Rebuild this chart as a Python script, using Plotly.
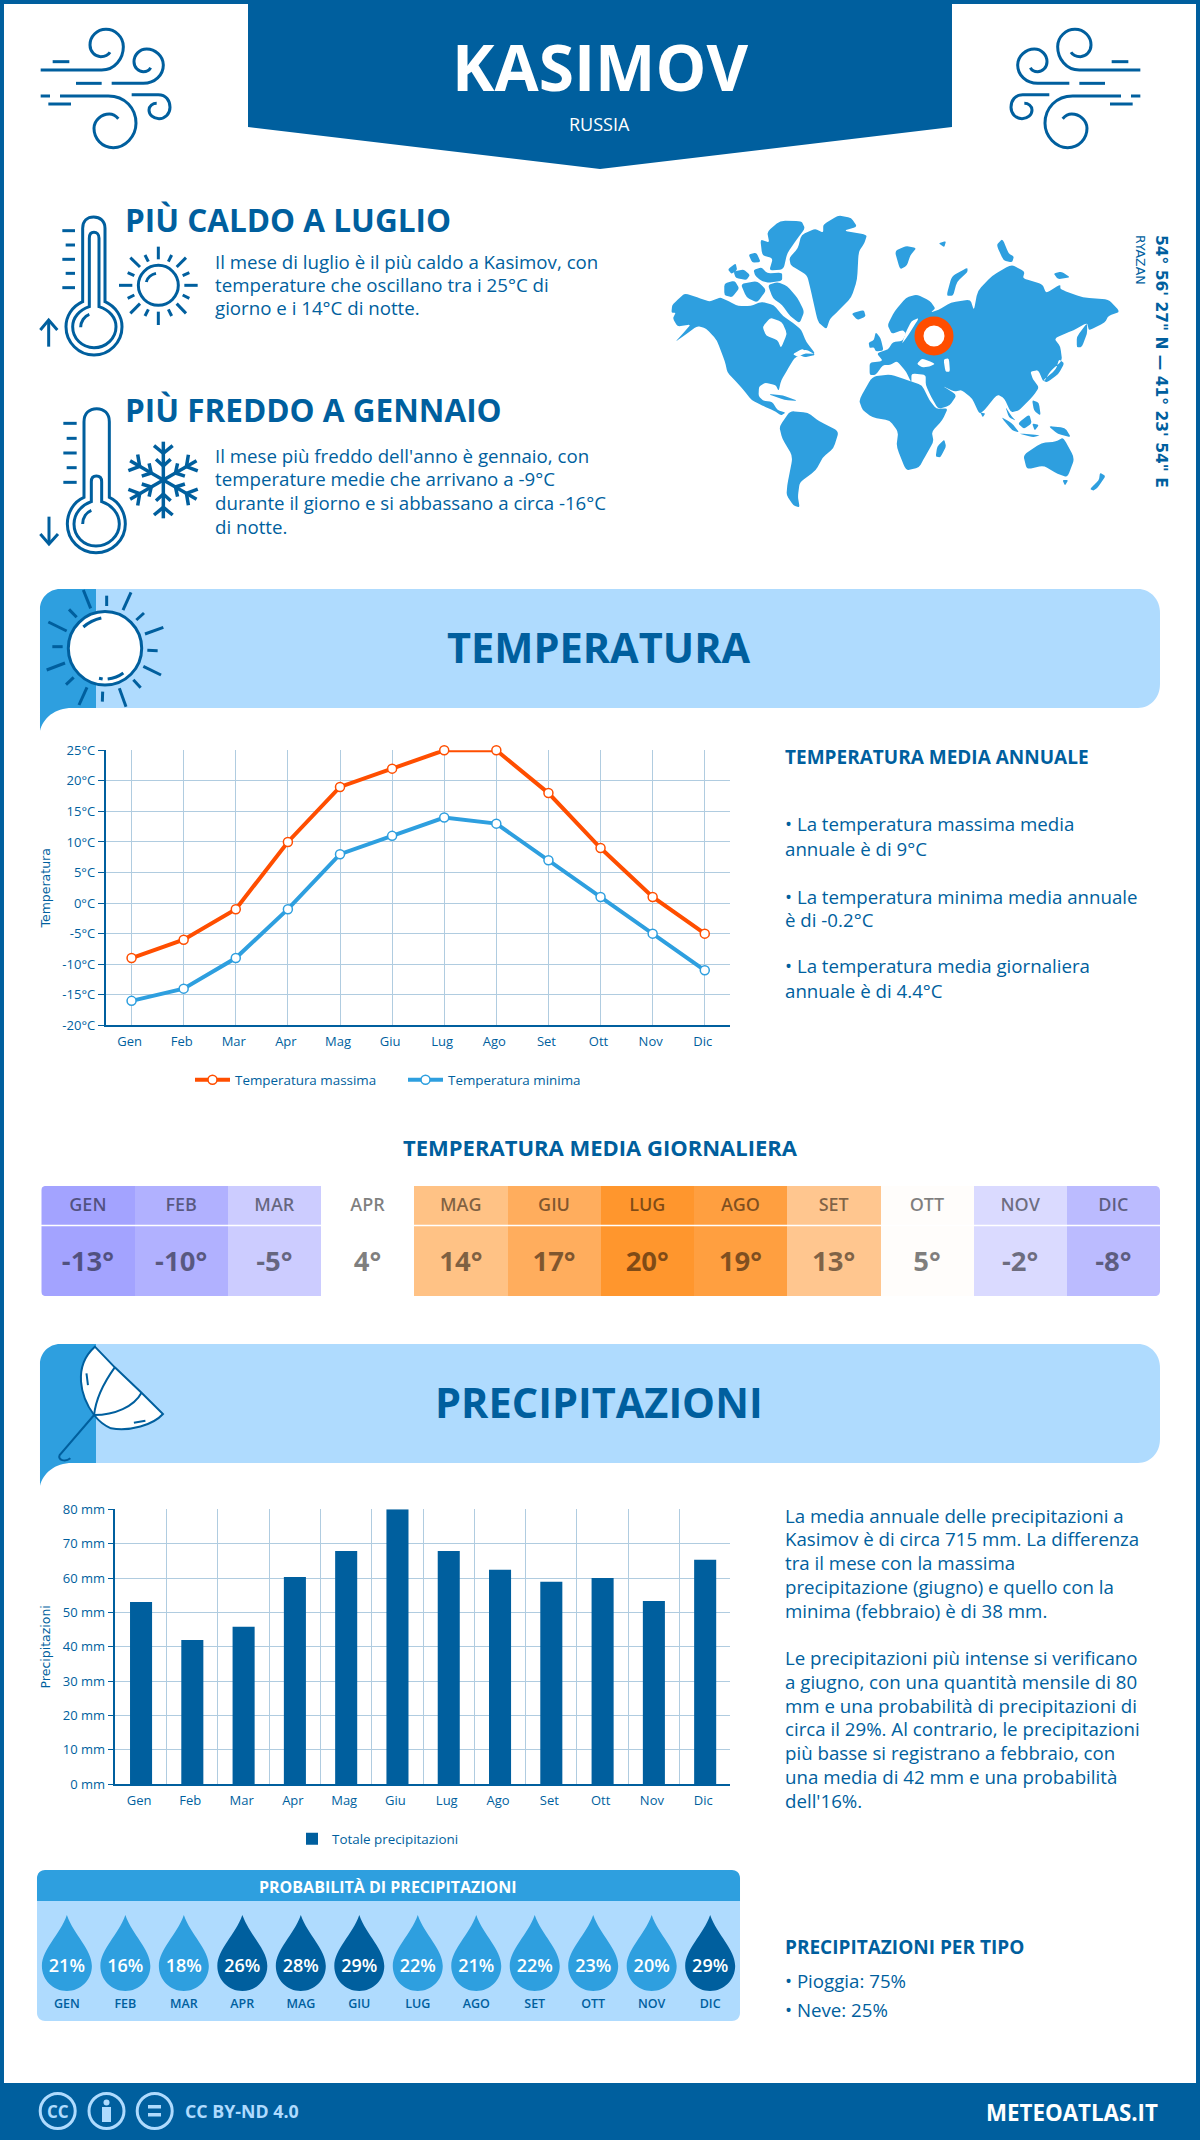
import re
import math
import plotly.graph_objects as go

# ===============
# data
# ===============

months = ["Gen", "Feb", "Mar", "Apr", "Mag", "Giu", "Lug", "Ago", "Set", "Ott", "Nov", "Dic"]
months_upper = [m.upper() for m in months]
month_index = list(range(12))

temp_max = [-9, -6, -1, 10, 19, 22, 25, 25, 18, 9, 1, -5]
temp_min = [-16, -14, -9, -1, 8, 11, 14, 13, 7, 1, -5, -11]
temp_ticks = [-20, -15, -10, -5, 0, 5, 10, 15, 20, 25]
temp_tick_labels = ["-20°C", "-15°C", "-10°C", "-5°C", "0°C", "5°C", "10°C", "15°C", "20°C", "25°C"]

temp_daily = [-13, -10, -5, 4, 14, 17, 20, 19, 13, 5, -2, -8]
temp_daily_labels = ["-13°", "-10°", "-5°", "4°", "14°", "17°", "20°", "19°", "13°", "5°", "-2°", "-8°"]
temp_colors = [(-13, "#A3A3FF"), (-10, "#B1B1FF"), (-8, "#BBBBFF"), (-5, "#CCCCFF"), (-2, "#DADAFF"), (4, "#FFFFFF"),
               (5, "#FFFDFB"), (13, "#FFC68F"), (14, "#FFC285"), (17, "#FFAD5D"), (19, "#FF9F40"), (20, "#FF962D")]

precip = [53, 42, 45.8, 60.3, 67.9, 80, 67.9, 62.4, 58.9, 60, 53.3, 65.3]
precip_ticks = [0, 10, 20, 30, 40, 50, 60, 70, 80]
precip_tick_labels = ["0 mm", "10 mm", "20 mm", "30 mm", "40 mm", "50 mm", "60 mm", "70 mm", "80 mm"]

rain_prob = [21, 16, 18, 26, 28, 29, 22, 21, 22, 23, 20, 29]

hot_lines = ["Il mese di luglio è il più caldo a Kasimov, con",
             "temperature che oscillano tra i 25°C di",
             "giorno e i 14°C di notte."]
cold_lines = ["Il mese più freddo dell'anno è gennaio, con",
              "temperature medie che arrivano a -9°C",
              "durante il giorno e si abbassano a circa -16°C",
              "di notte."]
temp_side_lines = ["• La temperatura massima media", "annuale è di 9°C",
                   "• La temperatura minima media annuale", "è di -0.2°C",
                   "• La temperatura media giornaliera", "annuale è di 4.4°C"]
precip_side_lines = ["La media annuale delle precipitazioni a",
                     "Kasimov è di circa 715 mm. La differenza",
                     "tra il mese con la massima",
                     "precipitazione (giugno) e quello con la",
                     "minima (febbraio) è di 38 mm.",
                     "Le precipitazioni più intense si verificano",
                     "a giugno, con una quantità mensile di 80",
                     "mm e una probabilità di precipitazioni di",
                     "circa il 29%. Al contrario, le precipitazioni",
                     "più basse si registrano a febbraio, con",
                     "una media di 42 mm e una probabilità",
                     "dell'16%."]

# ===============
# colors
# ===============

DARK = "#005F9E"
MID = "#2E9FDF"
LIGHT = "#AFDBFE"
ORANGE = "#FF4E00"
GRID = "#B0CCE0"
W, H = 1200, 2140

shapes = []
annotations = []

# ===============
# helpers
# ===============

def to_paper(d, sx=1.0, sy=1.0, ox=0.0, oy=0.0, mirror=None):
    # svg path written in some local coordinates -> paper coordinates
    nums = iter(range(100000))
    def repl(m):
        v = float(m.group(0))
        if next(nums) % 2 == 0:
            x = ox + v * sx
            if mirror is not None:
                x = mirror - x
            return f"{x / W:.5f}"
        return f"{1 - (oy + v * sy) / H:.5f}"
    return re.sub(r"-?\d+\.?\d*", repl, d)

def add_path(d, fill=None, line=None, width=0, layer="below", **kw):
    shapes.append(dict(type="path", xref="paper", yref="paper", path=to_paper(d, **kw), layer=layer,
                       fillcolor=fill if fill else "rgba(0,0,0,0)",
                       line=dict(color=line if line else "rgba(0,0,0,0)", width=width)))

def add_rect(x0, y0, x1, y1, color, layer="below"):
    add_path(f"M{x0},{y0} L{x1},{y0} L{x1},{y1} L{x0},{y1} Z", fill=color, layer=layer)

def add_circle(cx, cy, r, fill=None, line=None, width=0, layer="above"):
    shapes.append(dict(type="circle", xref="paper", yref="paper", layer=layer,
                       x0=(cx - r) / W, x1=(cx + r) / W, y0=1 - (cy + r) / H, y1=1 - (cy - r) / H,
                       fillcolor=fill if fill else "rgba(0,0,0,0)",
                       line=dict(color=line if line else "rgba(0,0,0,0)", width=width)))

def add_text(x, y, s, size, color=DARK, weight=400, anchor="left", family="Open Sans", angle=0):
    annotations.append(dict(x=x / W, y=1 - y / H, xref="paper", yref="paper", text=s, showarrow=False,
                            xanchor=anchor, yanchor="middle", textangle=angle,
                            font=dict(family=family, size=size, color=color, weight=weight)))

def add_icon(paths, width=3, color=DARK, **kw):
    for d in paths:
        add_path(d, line=color, width=width, layer="above", **kw)

def polys(points):
    # outlines with the corners rounded off a little
    out = []
    for p in points:
        n = len(p)
        d = ""
        for i in range(n):
            x, y = p[i]
            ax, ay = p[i - 1]
            bx, by = p[(i + 1) % n]
            sx_, sy_ = x + (ax - x) * 0.25, y + (ay - y) * 0.25
            ex, ey = x + (bx - x) * 0.25, y + (by - y) * 0.25
            d += ("M" if i == 0 else " L") + f"{sx_:.1f},{sy_:.1f} Q{x},{y} {ex:.1f},{ey:.1f}"
        out.append(d + " Z")
    return " ".join(out)

# ===============
# frame and header
# ===============

add_rect(0, 0, W, 4, DARK)
add_rect(0, 0, 4, H, DARK)
add_rect(W - 4, 0, W, H, DARK)
add_rect(0, 2083, W, H, DARK)
add_path("M248,0 L952,0 L952,127 L600,169 L248,127 Z", fill=DARK)
add_text(600, 66, "KASIMOV", 64, "white", 700, "center")
add_text(599, 124, "RUSSIA", 18, "white", 400, "center")

wind = [
    "M32,150 L215,150 C255,150 280,115 280,80 C280,50 255,28 228,28 C200,28 180,50 180,75 C180,95 195,110 212,110 C225,110 235,105 240,97",
    "M68,125 L118,125",
    "M138,190 L215,190",
    "M245,190 L340,190 C375,190 400,165 400,135 C400,108 375,87 350,87 C328,87 312,105 312,125 C312,142 325,155 340,155 C350,155 358,150 362,143",
    "M32,228 L60,228",
    "M90,228 L235,228 C285,228 318,265 318,310 C318,350 285,383 250,383 C215,383 192,355 192,325 C192,300 215,282 238,282 C250,282 258,288 265,296",
    "M55,252 L123,252",
    "M305,224 L385,224 C408,224 420,242 420,262 C420,282 405,296 387,296 C370,296 357,285 357,270 C357,258 368,250 380,250",
]
add_icon(wind, sx=1 / 3, sy=1 / 3, ox=30, oy=20)
add_icon(wind, sx=1 / 3, sy=1 / 3, ox=30, oy=20, mirror=1181)

# ===============
# hottest / coldest blocks
# ===============

add_text(123, 219, "PIÙ CALDO A LUGLIO", 31.5, DARK, 700)
for i, line in enumerate(hot_lines):
    add_text(213, [261, 284, 308][i], line, 18.7)
add_text(123, 410, "PIÙ FREDDO A GENNAIO", 31.5, DARK, 700)
for i, line in enumerate(cold_lines):
    add_text(213, [455, 478.5, 502.5, 526.5][i], line, 18.7)

hot_icon = [
    "M158,290 L158,70 C158,48 172,36 191,36 C210,36 225,48 225,70 L225,290 C258,305 276,335 276,365 C276,412 238,450 192,450 C146,450 108,412 108,365 C108,335 125,305 158,290 Z",
    "M178,305 L178,100 C178,88 184,82 192,82 C200,82 207,88 207,100 L207,305 C238,315 258,338 258,365 C258,400 228,428 192,428 C156,428 128,400 128,365 C128,338 148,315 178,305 Z",
    "M152,367 C152,350 163,333 178,328",
    "M97,77 L135,77", "M107,120 L135,120", "M97,163 L135,163", "M107,205 L135,205", "M97,248 L135,248",
    "M56,425 L56,345", "M31,375 L56,345 L82,375",
    "M325,241 C325,208 352,181 385,181 C418,181 445,208 445,241 C445,274 418,301 385,301 C352,301 325,274 325,241 Z",
    "M349,231 C352,218 365,208 378,205",
    "M385,125 L385,163", "M385,320 L385,360", "M267,241 L307,241", "M463,241 L503,241",
    "M301,158 L330,186", "M468,158 L440,186", "M301,325 L330,296", "M468,325 L440,296",
    "M345,150 L355,170", "M425,150 L415,170", "M293,203 L313,212", "M478,203 L458,212",
    "M293,280 L313,270", "M478,280 L458,270", "M345,333 L355,313", "M425,333 L415,313",
]
add_icon(hot_icon, sx=1 / 3, sy=1 / 3, ox=30, oy=205)

cold_icon = [
    "M162,292 L162,65 C162,40 178,26 200,26 C222,26 238,40 238,65 L238,292 C268,305 286,340 286,372 C286,420 246,458 198,458 C150,458 112,420 112,372 C112,340 130,305 162,292 Z",
    "M184,305 L184,245 C184,233 190,228 199,228 C208,228 215,233 215,245 L215,305 C245,315 268,340 268,372 C268,408 236,438 198,438 C160,438 132,408 132,372 C132,340 155,315 184,305 Z",
    "M158,372 C158,352 170,337 184,331",
    "M100,70 L140,70", "M110,115 L140,115", "M100,159 L140,159", "M110,203 L140,203", "M100,247 L140,247",
    "M57,350 L57,432", "M31,402 L57,432 L84,402",
]
add_icon(cold_icon, sx=1 / 3, sy=1 / 3, ox=30, oy=400)

# snowflake: one arm pattern turned three times
arm = [[(0, -115), (0, 115)], [(-28, -103), (0, -80), (28, -103)], [(-22, -62), (0, -42), (22, -62)],
       [(-28, 105), (0, 82), (28, 105)], [(-22, 62), (0, 42), (22, 62)]]
flake = []
for deg in (0, 60, 120):
    a = math.radians(deg)
    for seg in arm:
        pts = [(400 + px * math.cos(a) - py * math.sin(a), 240 + px * math.sin(a) + py * math.cos(a)) for px, py in seg]
        flake.append("M" + " L".join(f"{x:.1f},{y:.1f}" for x, y in pts))
add_icon(flake, width=3.5, sx=1 / 3, sy=1 / 3, ox=30, oy=400)

# ===============
# world map
# ===============

land = [
    # north america
    [(88,368),(90,345),(105,330),(125,310),(160,322),(195,335),(225,322),(250,335),(275,348),(310,348),(340,335),(375,345),(400,378),(430,400),(452,420),(465,455),(492,492),(455,490),(432,505),(415,535),(395,572),(388,603),(380,585),(350,578),(333,590),(332,618),(345,632),(370,635),(385,660),(408,668),(395,676),(375,662),(345,648),(312,630),(290,600),(265,570),(245,548),(238,515),(215,450),(185,415),(160,408),(130,432),(98,456),(125,425),(142,403),(105,410),(92,385),(100,368)],
    # arctic islands
    [(358,285),(385,276),(412,288),(442,325),(460,365),(447,400),(420,378),(398,345),(372,325)],
    [(236,280),(265,272),(278,295),(258,322),(236,316)],
    [(318,240),(340,232),(356,250),(398,248),(398,272),(360,278),(338,272),(322,256)],
    [(246,238),(268,220),(272,240),(256,252)],
    [(262,245),(290,238),(308,255),(298,270),(268,264)],
    [(304,193),(326,188),(338,216),(314,218)],
    [(356,125),(392,92),(452,93),(462,115),(438,150),(412,190),(402,238),(362,242),(372,205),(342,196),(337,148),(362,158)],
    [(282,282),(328,273),(354,300),(328,338),(298,322)],
    # greenland, iceland, uk, svalbard and so on
    [(513,104),(555,76),(592,84),(608,110),(570,122),(636,134),(628,160),(612,186),(608,270),(592,322),(556,362),(532,386),(522,418),(498,396),(478,300),(468,256),(422,226),(418,204),(442,175),(452,134),(490,116),(513,128)],
    [(592,370),(627,360),(632,380),(608,390)],
    [(660,426),(674,445),(682,482),(660,484),(655,472),(643,474),(640,458),(655,450)],
    [(713,183),(745,168),(774,174),(757,196),(747,228),(728,238)],
    [(836,160),(857,153),(852,172)],
    [(858,317),(873,258),(917,233),(917,246),(887,276),(877,317)],
    [(998,165),(1015,146),(1032,190),(1047,200),(1042,217),(1018,212)],
    [(1158,250),(1180,245),(1205,262),(1170,268)],
    # eurasia
    [(643,555),(643,518),(680,513),(663,490),(695,478),(708,456),(735,453),(745,430),(735,420),(705,432),(693,405),(713,363),(745,323),(775,313),(812,333),(827,355),(815,367),(835,360),(870,338),(925,328),(935,362),(945,303),(985,258),(1040,223),(1077,245),(1072,265),(1127,283),(1137,310),(1177,283),(1177,298),(1240,323),(1312,328),(1344,365),(1312,377),(1302,397),(1257,422),(1252,398),(1215,420),(1160,445),(1177,470),(1182,512),(1150,542),(1130,577),(1115,540),(1093,545),(1100,567),(1117,592),(1102,617),(1060,662),(1038,667),(1020,625),(1000,613),(965,660),(950,672),(930,625),(900,600),(880,605),(848,588),(887,615),(867,647),(835,657),(815,620),(800,585),(800,555),(760,550),(760,578),(745,545),(720,513),(700,525),(680,525),(660,555)],
    # africa, madagascar
    [(613,630),(650,560),(700,553),(750,571),(790,586),(810,630),(830,657),(862,655),(847,690),(817,725),(822,755),(797,802),(782,832),(745,842),(718,770),(723,725),(700,692),(650,682),(623,660)],
    [(852,748),(857,770),(841,802),(828,800),(832,770)],
    # south america
    [(390,710),(420,663),(470,668),(502,694),(557,724),(542,775),(512,802),(492,842),(447,877),(442,920),(447,952),(430,947),(410,915),(413,880),(428,800),(398,745)],
    # australia, new zealand
    [(1073,795),(1125,758),(1165,755),(1185,742),(1217,805),(1197,862),(1170,852),(1130,827),(1083,838)],
    [(1183,870),(1199,870),(1190,887)],
    [(1260,897),(1285,870),(1288,848),(1304,858),(1282,892),(1270,902)],
    # japan, sakhalin, south east asia
    [(1128,572),(1165,538),(1173,508),(1188,520),(1172,552),(1140,577)],
    [(1223,440),(1252,398),(1252,430),(1237,472),(1223,472)],
    [(1098,630),(1117,638),(1122,677),(1103,662)],
    [(1010,680),(1040,698),(1062,727),(1043,722)],
    [(1058,700),(1090,673),(1097,700),(1075,717)],
    [(1058,730),(1122,736),(1100,742)],
    [(1098,700),(1117,705),(1105,722)],
    [(1143,708),(1190,713),(1207,742),(1170,732)],
    [(1023,650),(1040,678),(1052,692),(1033,682)],
    [(953,668),(967,670),(960,682)],
    [(358,612),(400,616),(442,633),(405,630)],
    [(438,490),(465,478),(492,495),(460,502)],
]
seas = [
    [(343,410),(365,383),(397,395),(412,430),(395,475),(385,450),(353,437)],
    [(775,522),(790,505),(820,518),(825,522),(810,530),(790,532)],
    [(850,508),(865,505),(868,545),(855,545)],
    [(733,462),(745,425),(760,393),(782,383),(747,442)],
    [(428,492),(455,476),(468,488),(440,500)],
]
add_path(polys(land), fill=MID, sx=1 / 2.8, sy=1 / 3, ox=640, oy=190)
add_path(polys(seas), fill="white", sx=1 / 2.8, sy=1 / 3, ox=640, oy=190)
add_circle(934, 336, 15, fill="white", line=ORANGE, width=9)
add_text(1161, 361, "54° 56' 27\" N — 41° 23' 54\" E", 15.5, DARK, 700, "center", "DejaVu Sans", 90)
add_text(1141, 260, "RYAZAN", 12.5, DARK, 400, "center", "DejaVu Sans", 90)

# ===============
# section banners
# ===============

def banner(y0, title):
    y1 = y0 + 119
    add_path(f"M80,{y0} L1138,{y0} C1150,{y0} 1160,{y0+10} 1160,{y0+24} L1160,{y1-24} C1160,{y1-10} 1150,{y1} 1138,{y1} L80,{y1} Z", fill=LIGHT)
    add_path(f"M40,{y0+20} C40,{y0+9} 49,{y0} 60,{y0} L96,{y0} L96,{y1} L72,{y1} C55,{y1} 43,{y1+10} 40,{y1+23} Z", fill=MID)
    add_text(599, y0 + 58, title, 41.5, DARK, 700, "center")

banner(589, "TEMPERATURA")
banner(1344, "PRECIPITAZIONI")

sun_rays = [
    "M160,30 L182,85", "M230,47 L230,78", "M303,37 L279,90", "M342,99 L319,120", "M400,142 L345,162",
    "M383,212 L352,211", "M393,285 L340,259", "M332,323 L310,299", "M288,380 L268,325", "M217,365 L218,335",
    "M147,375 L171,322", "M108,314 L131,292", "M50,270 L105,249", "M67,200 L98,200", "M55,126 L110,153",
    "M117,88 L140,112",
]
add_icon(sun_rays, sx=1 / 3, sy=1 / 3, ox=30, oy=580)
add_circle(105, 648.3, 36.7, fill="white", line=DARK, width=3)
add_icon(["M160,141 C175,128 195,118 214,114", "M233,297 C250,295 268,288 280,279", "M207,295 L218,297"],
         sx=1 / 3, sy=1 / 3, ox=30, oy=580)

add_path("M124,680 L150,742 L185,818 L213,882 C200,915 170,935 145,925 C135,915 128,900 123,885 C105,830 95,740 124,680 Z",
         fill="white", line=DARK, width=2, layer="above", sx=1 / 1.307, sy=1 / 3, ox=0, oy=1120)
add_icon(["M150,742 C135,790 125,840 123,885", "M185,818 C175,860 150,885 123,885",
          "M123,885 L78,1005 C75,1020 85,1028 92,1015", "M113,760 L115,795", "M175,908 L190,902"],
         width=2, sx=1 / 1.307, sy=1 / 3, ox=0, oy=1120)

# ===============
# side texts
# ===============

add_text(783, 757, "TEMPERATURA MEDIA ANNUALE", 19, DARK, 700)
for y, line in zip([824, 848, 896, 919.5, 966, 990], temp_side_lines):
    add_text(783, y, line, 18.7)
add_text(600, 1147, "TEMPERATURA MEDIA GIORNALIERA", 22, DARK, 700, "center")
for y, line in zip([1515, 1538, 1562, 1586, 1610, 1657, 1681, 1705, 1728, 1752, 1776, 1800], precip_side_lines):
    add_text(783, y, line, 18.7)
add_text(783, 1947, "PRECIPITAZIONI PER TIPO", 19, DARK, 700)
add_text(783, 1980, "• Pioggia: 75%", 18.7)
add_text(783, 2009, "• Neve: 25%", 18.7)

# ===============
# probability panel
# ===============

add_path("M37,1878 C37,1873 41,1870 45,1870 L732,1870 C736,1870 740,1873 740,1878 L740,1901 L37,1901 Z", fill=MID)
add_path("M37,1901 L740,1901 L740,2013 C740,2018 736,2021 732,2021 L45,2021 C41,2021 37,2018 37,2013 Z", fill=LIGHT)
add_text(388, 1887, "PROBABILITÀ DI PRECIPITAZIONI", 16, "white", 700, "center")

# one drop per month, drawn on the panel's own axes
for i, p in enumerate(rain_prob):
    dx = 25 / 58.5
    cx = month_index[i]
    shapes.append(dict(type="path", xref="x4", yref="y4", layer="below", line=dict(width=0),
                       fillcolor=DARK if p >= 26 else MID,
                       path=(f"M{cx},14 C{cx+dx*0.28},34 {cx+dx},48 {cx+dx},65 C{cx+dx},79 {cx+dx*0.55},90 {cx},90 "
                             f"C{cx-dx*0.55},90 {cx-dx},79 {cx-dx},65 C{cx-dx},48 {cx-dx*0.28},34 {cx},14 Z")))

# ===============
# footer
# ===============

for cx in (57.7, 106.5, 154.7):
    add_circle(cx, 2111, 17.5, line=LIGHT, width=3)
add_text(57.7, 2111, "CC", 17, LIGHT, 700, "center")
add_circle(106.5, 2102.5, 3, fill=LIGHT)
add_rect(102, 2107, 111, 2122, LIGHT, layer="above")
add_rect(148, 2105, 161, 2108.5, LIGHT, layer="above")
add_rect(148, 2113, 161, 2116.5, LIGHT, layer="above")
add_text(183, 2111, "CC BY-ND 4.0", 17.8, LIGHT, 700)
add_text(1160, 2112, "METEOATLAS.IT", 22.3, "white", 700, "right")

# ===============
# visualization
# ===============

fig = go.Figure()

fig.add_trace(go.Scatter(x=months, y=temp_max, name="Temperatura massima", mode="lines+markers", cliponaxis=False,
                         line=dict(color=ORANGE, width=4),
                         marker=dict(size=9, color="white", line=dict(color=ORANGE, width=1.5))))
fig.add_trace(go.Scatter(x=months, y=temp_min, name="Temperatura minima", mode="lines+markers", cliponaxis=False,
                         line=dict(color=MID, width=4),
                         marker=dict(size=9, color="white", line=dict(color=MID, width=1.5))))

fig.add_trace(go.Bar(x=months, y=precip, name="Totale precipitazioni", marker=dict(color=DARK, line=dict(width=0)),
                     xaxis="x2", yaxis="y2", legend="legend2"))

z0, z1 = temp_colors[0][0], temp_colors[-1][0]
scale = [[(v - z0) / (z1 - z0), c] for v, c in temp_colors]
fig.add_trace(go.Heatmap(x=months_upper, y0=55, dy=110, z=[temp_daily], zmin=z0, zmax=z1, colorscale=scale,
                         showscale=False, xaxis="x3", yaxis="y3"))
fig.add_trace(go.Scatter(x=months_upper, y=[20] * 12, mode="text", text=months_upper, showlegend=False, cliponaxis=False,
                         textfont=dict(family="Open Sans", size=18, color="rgba(0,0,0,0.5)", weight=600),
                         xaxis="x3", yaxis="y3"))
fig.add_trace(go.Scatter(x=months_upper, y=[78] * 12, mode="text", text=temp_daily_labels, showlegend=False, cliponaxis=False,
                         textfont=dict(family="Open Sans", size=27.5, color="rgba(0,0,0,0.5)", weight=700),
                         xaxis="x3", yaxis="y3"))

fig.add_trace(go.Scatter(x=month_index, y=[66] * 12, mode="text", text=[f"{p}%" for p in rain_prob], showlegend=False,
                         cliponaxis=False, textfont=dict(family="Open Sans", size=18, color="white", weight=600),
                         xaxis="x4", yaxis="y4"))
fig.add_trace(go.Scatter(x=month_index, y=[104] * 12, mode="text", text=months_upper, showlegend=False,
                         cliponaxis=False, textfont=dict(family="Open Sans", size=12.5, color=DARK, weight=600),
                         xaxis="x4", yaxis="y4"))

# white line between the label row and the value row, rounded corners of the table
shapes.append(dict(type="line", xref="paper", yref="paper", layer="above", x0=41 / W, x1=1160 / W,
                   y0=1 - 1225.5 / H, y1=1 - 1225.5 / H, line=dict(color="white", width=1.5)))
for xc, yc, sx_, sy_ in [(41, 1186, 1, 1), (1160, 1186, -1, 1), (41, 1296, 1, -1), (1160, 1296, -1, -1)]:
    add_path(f"M{xc},{yc} L{xc+5*sx_},{yc} C{xc+2*sx_},{yc} {xc},{yc+2*sy_} {xc},{yc+5*sy_} Z", fill="white", layer="above")

tick_font = dict(family="Open Sans", size=13, color=DARK)
title_font = dict(family="DejaVu Sans", size=12.5, color=DARK)
legend_font = dict(family="Open Sans", size=13.4, color=DARK)

fig.update_layout(
    template="none", width=W, height=H, autosize=False,
    margin=dict(l=0, r=0, t=0, b=0, pad=0, autoexpand=False),
    paper_bgcolor="white", plot_bgcolor="rgba(0,0,0,0)", font=dict(family="Open Sans", color=DARK),
    shapes=shapes, annotations=annotations, hovermode=False, bargap=0.57,
    xaxis=dict(domain=[105.5 / W, 730.3 / W], anchor="y", range=[-0.5, 11.49], type="category", categoryarray=months,
               showgrid=True, gridcolor=GRID, gridwidth=1, showline=True, linecolor=DARK, linewidth=1.5,
               ticks="", tickfont=tick_font, ticklabelshift=-2, ticklabelstandoff=3, automargin=False),
    yaxis=dict(domain=[1 - 1025.3 / H, 1 - 750.3 / H], anchor="x", range=[-20, 25], tickmode="array",
               tickvals=temp_ticks, ticktext=temp_tick_labels, showgrid=True, gridcolor=GRID, gridwidth=1,
               zeroline=False, showline=True, linecolor=DARK, linewidth=1.5, ticks="outside", ticklen=6,
               tickcolor=DARK, tickfont=tick_font, automargin=False,
               title=dict(text="Temperatura", font=title_font, standoff=9)),
    xaxis2=dict(domain=[115.4 / W, 730.3 / W], anchor="y2", range=[-0.5, 11.49], type="category", categoryarray=months,
                tickson="boundaries", showgrid=True, gridcolor=GRID, gridwidth=1, showline=True, linecolor=DARK,
                linewidth=1.5, ticks="", tickfont=tick_font, ticklabelshift=-2, ticklabelstandoff=3, automargin=False),
    yaxis2=dict(domain=[1 - 1784.3 / H, 1 - 1509.3 / H], anchor="x2", range=[0, 80], tickmode="array",
                tickvals=precip_ticks, ticktext=precip_tick_labels, showgrid=True, gridcolor=GRID, gridwidth=1,
                zeroline=False, showline=True, linecolor=DARK, linewidth=1.5, ticks="outside", ticklen=6,
                tickcolor=DARK, tickfont=tick_font, automargin=False,
                title=dict(text="Precipitazioni", font=title_font, standoff=9)),
    xaxis3=dict(domain=[41.3 / W, 1160 / W], anchor="y3", range=[-0.5, 11.5], type="category",
                categoryarray=months_upper, visible=False),
    yaxis3=dict(domain=[1 - 1296 / H, 1 - 1186 / H], anchor="x3", range=[110, 0], visible=False),
    xaxis4=dict(domain=[37 / W, 740 / W], anchor="y4", range=[-0.511, 11.51], visible=False),
    yaxis4=dict(domain=[1 - 2021 / H, 1 - 1901 / H], anchor="x4", range=[120, 0], visible=False),
    legend=dict(orientation="h", x=190 / W, y=1 - 1080 / H, xanchor="left", yanchor="middle", font=legend_font,
                bgcolor="rgba(0,0,0,0)", itemwidth=35, entrywidth=163, entrywidthmode="pixels"),
    legend2=dict(orientation="h", x=292 / W, y=1 - 1839 / H, xanchor="left", yanchor="middle", font=legend_font,
                 bgcolor="rgba(0,0,0,0)"),
)

fig.write_html("out.html", config={"displayModeBar": False}, post_script="document.body.style.margin='0';")
